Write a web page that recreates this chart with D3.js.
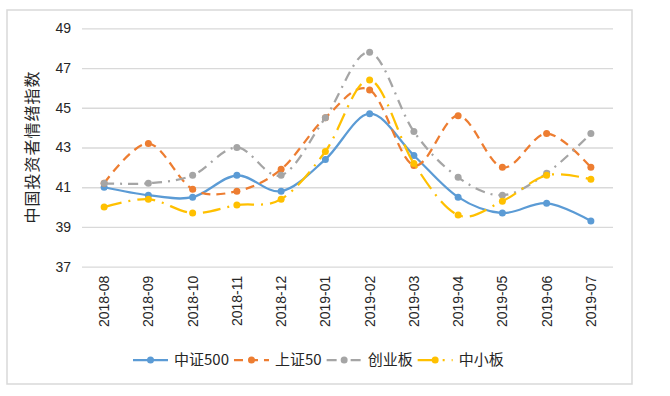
<!DOCTYPE html>
<html>
<head>
<meta charset="utf-8">
<script src="https://cdn.jsdelivr.net/npm/d3@7"></script>
<style>
  body { margin: 0; background: #fff; }
  svg { display: block; }
</style>
</head>
<body>
<svg id="chart" width="670" height="396"></svg>
<script>
const months = ['2018-08', '2018-09', '2018-10', '2018-11', '2018-12', '2019-01',
  '2019-02', '2019-03', '2019-04', '2019-05', '2019-06', '2019-07'];
const zz500 = [41.0, 40.6, 40.5, 41.6, 40.8, 42.4, 44.7, 42.6, 40.5, 39.7, 40.2, 39.3];
const sz50 = [41.2, 43.2, 40.9, 40.8, 41.9, 44.5, 45.9, 42.1, 44.6, 42.0, 43.7, 42.0];
const cyb = [41.2, 41.2, 41.6, 43.0, 41.6, 44.5, 47.8, 43.8, 41.5, 40.6, 41.7, 43.7];
const zxb = [40.0, 40.4, 39.7, 40.1, 40.4, 42.8, 46.4, 42.2, 39.6, 40.3, 41.6, 41.4];
const yTicks = [37, 39, 41, 43, 45, 47, 49];
const seriesNames = ['中证500', '上证50', '创业板', '中小板'];

const series = [
  { name: seriesNames[0], values: zz500, color: '#5B9BD5', dash: null },
  { name: seriesNames[1], values: sz50, color: '#ED7D31', dash: '9,6' },
  { name: seriesNames[2], values: cyb, color: '#A5A5A5', dash: '10,6,2,6' },
  { name: seriesNames[3], values: zxb, color: '#FFC000', dash: '18,7,2,7' }
];

const svg = d3.select('#chart');

// outer chart frame
svg.append('rect')
  .attr('x', 7)
  .attr('y', 10)
  .attr('width', 625)
  .attr('height', 374)
  .attr('fill', '#fff')
  .attr('stroke', '#d9d9d9')
  .attr('stroke-width', 1.5);

const plotL = 82, plotR = 613, plotT = 28.3, plotB = 266.7;

const x = d3.scaleBand().domain(months).range([plotL, plotR]);
const y = d3.scaleLinear().domain([37, 49]).range([plotB, plotT]);

const yAxis = svg.append('g')
  .attr('transform', `translate(${plotL},0)`)
  .call(d3.axisLeft(y).tickValues(yTicks).tickSize(-(plotR - plotL)).tickPadding(11).tickFormat(d3.format('d')));
yAxis.select('.domain').remove();
yAxis.selectAll('.tick line').attr('stroke', '#d9d9d9').attr('stroke-width', 1.3);
yAxis.selectAll('.tick text')
  .style('font-family', '"Liberation Sans", Arial, sans-serif')
  .style('font-size', '14px')
  .attr('fill', '#262626');

const xAxis = svg.append('g')
  .attr('transform', `translate(0,${plotB})`)
  .call(d3.axisBottom(x).tickSize(0).tickPadding(0));
xAxis.select('.domain').remove();
xAxis.selectAll('.tick text')
  .attr('y', 0)
  .attr('dy', '0.35em')
  .attr('transform', 'translate(0,9) rotate(-90)')
  .attr('text-anchor', 'end')
  .style('font-family', '"Liberation Sans", Arial, sans-serif')
  .style('font-size', '14px')
  .attr('fill', '#262626');

// y axis title
svg.append('text')
  .attr('transform', 'translate(32,147) rotate(-90)')
  .attr('text-anchor', 'middle')
  .attr('dy', '0.35em')
  .style('font-family', '"Noto Sans CJK SC", sans-serif')
  .style('font-size', '16px')
  .style('letter-spacing', '1px')
  .attr('fill', '#262626')
  .text('中国投资者情绪指数');

const line = d3.line()
  .x((d, i) => x(months[i]) + x.bandwidth() / 2)
  .y(d => y(d))
  .curve(d3.curveCardinal.tension(0));

const lines = svg.append('g');
series.forEach(s => {
  const g = lines.append('g');
  g.append('path')
    .datum(s.values)
    .attr('d', line)
    .attr('fill', 'none')
    .attr('stroke', s.color)
    .attr('stroke-width', 2.25)
    .attr('stroke-dasharray', s.dash);
  g.selectAll('circle')
    .data(s.values)
    .join('circle')
    .attr('cx', (d, i) => x(months[i]) + x.bandwidth() / 2)
    .attr('cy', d => y(d))
    .attr('r', 3.5)
    .attr('fill', s.color);
});

// legend
const legend = svg.append('g').attr('transform', 'translate(0,360)');
let lx = 133;
series.forEach(s => {
  const item = legend.append('g').attr('transform', `translate(${lx},0)`);
  item.append('line')
    .attr('x1', 0).attr('x2', 35)
    .attr('stroke', s.color)
    .attr('stroke-width', 2.25)
    .attr('stroke-dasharray', s.dash);
  item.append('circle')
    .attr('cx', 17.5)
    .attr('r', 3.5)
    .attr('fill', s.color);
  const t = item.append('text')
    .attr('x', 41)
    .attr('dy', '0.35em')
    .style('font-family', '"Noto Sans CJK SC", sans-serif')
    .style('font-size', '15px')
    .attr('fill', '#262626')
    .text(s.name);
  lx += 41 + t.node().getComputedTextLength() + 5;
});
</script>
</body>
</html>
